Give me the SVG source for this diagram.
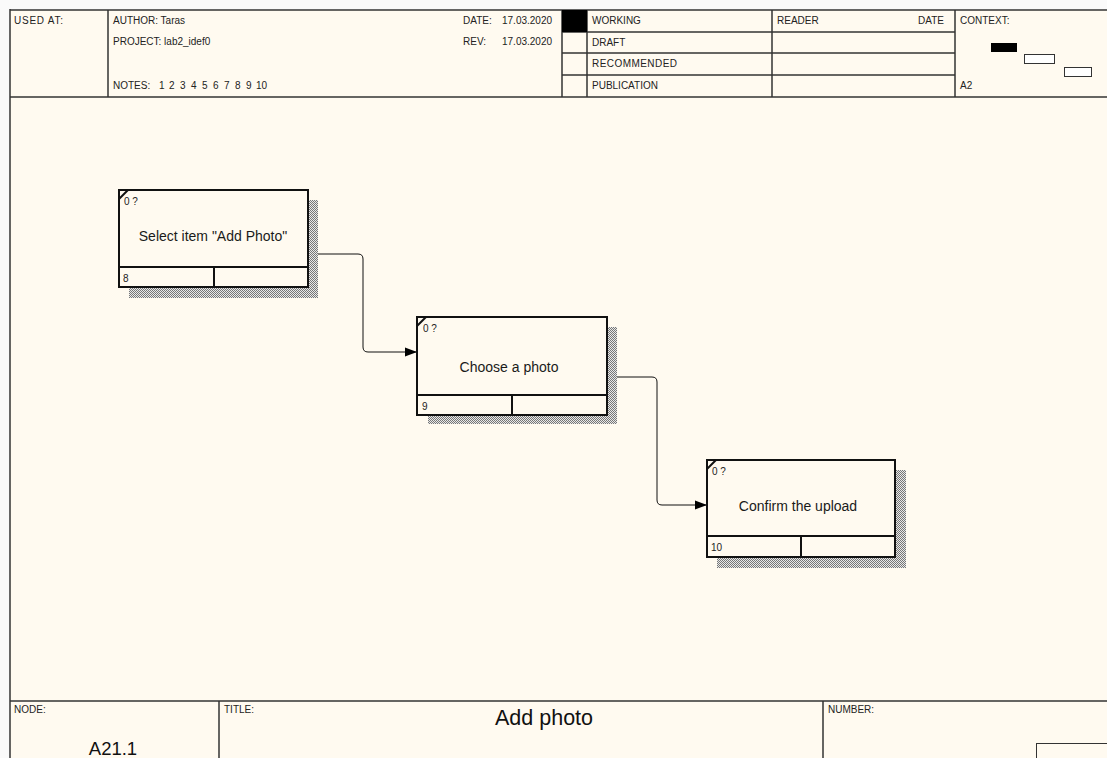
<svg xmlns="http://www.w3.org/2000/svg" width="1107" height="758" viewBox="0 0 1107 758">
<style>
.t{font-family:"Liberation Sans",Arial,sans-serif;font-size:10px;fill:#222}
.bt{font-family:"Liberation Sans",Arial,sans-serif;font-size:14px;fill:#1a1a1a;text-anchor:middle}
.fr{stroke:#333;stroke-width:1.5;fill:none}
.box{fill:#fffaf0;stroke:#111;stroke-width:2}
.div{stroke:#111;stroke-width:2}
.sh{fill:url(#hatch)}
.conn{stroke:#111;stroke-width:1;fill:none;marker-end:url(#ah)}
</style>
<defs>
<pattern id="hatch" width="2" height="2" patternUnits="userSpaceOnUse">
<rect width="2" height="2" fill="#e8e8e8"/>
<rect width="1" height="1" fill="#777"/>
<rect x="1" y="1" width="1" height="1" fill="#777"/>
</pattern>
<marker id="ah" markerWidth="13" markerHeight="10" refX="12" refY="5" orient="auto" markerUnits="userSpaceOnUse">
<path d="M0,0.5 L12,5 L0,9.5 Z" fill="#000"/>
</marker>
</defs>
<rect width="1107" height="758" fill="#fafafa"/>
<rect x="10" y="10" width="1097" height="748" fill="#fffaf0"/>
<g id="frame">
<line x1="10" y1="10" x2="1107" y2="10" class="fr" stroke-width="2"/>
<line x1="10" y1="9" x2="10" y2="758" class="fr" stroke-width="2.5" stroke="#555"/>
<line x1="10" y1="97" x2="1107" y2="97" class="fr" stroke-width="2.5" stroke="#555"/>
<line x1="108" y1="10" x2="108" y2="97" class="fr"/>
<line x1="562" y1="10" x2="562" y2="97" class="fr"/>
<line x1="587" y1="10" x2="587" y2="97" class="fr" stroke="#555"/>
<line x1="772" y1="10" x2="772" y2="97" class="fr"/>
<line x1="955" y1="10" x2="955" y2="97" class="fr" stroke="#555"/>
<line x1="562" y1="32" x2="955" y2="32" class="fr"/>
<line x1="562" y1="53" x2="955" y2="53" class="fr"/>
<line x1="562" y1="75" x2="955" y2="75" class="fr"/>
<rect x="562" y="10" width="25" height="22" fill="#000"/>
<text x="14" y="24" class="t" textLength="49">USED AT:</text>
<text x="113" y="24" class="t">AUTHOR:  Taras</text>
<text x="113" y="45" class="t">PROJECT:  lab2_idef0</text>
<text x="113" y="89" class="t">NOTES:</text>
<text y="89" class="t"><tspan x="159">1</tspan><tspan x="169">2</tspan><tspan x="180">3</tspan><tspan x="191">4</tspan><tspan x="202">5</tspan><tspan x="213">6</tspan><tspan x="224">7</tspan><tspan x="235">8</tspan><tspan x="246">9</tspan><tspan x="256">10</tspan></text>
<text x="463" y="24" class="t">DATE:</text>
<text x="502" y="24" class="t">17.03.2020</text>
<text x="463" y="45" class="t">REV:</text>
<text x="502" y="45" class="t">17.03.2020</text>
<text x="592" y="24" class="t">WORKING</text>
<text x="592" y="46" class="t">DRAFT</text>
<text x="592" y="67" class="t" textLength="85">RECOMMENDED</text>
<text x="592" y="89" class="t">PUBLICATION</text>
<text x="777" y="24" class="t">READER</text>
<text x="944" y="24" class="t" text-anchor="end">DATE</text>
<text x="960" y="24" class="t">CONTEXT:</text>
<text x="960" y="89" class="t">A2</text>
<rect x="991" y="43" width="26" height="9" fill="#000"/>
<rect x="1024.5" y="54.5" width="30" height="9" fill="#fff" stroke="#333"/>
<rect x="1064.5" y="67.5" width="27" height="9" fill="#fff" stroke="#333"/>
<line x1="10" y1="701" x2="1107" y2="701" class="fr" stroke-width="2.5" stroke="#555"/>
<line x1="219" y1="701" x2="219" y2="758" class="fr" stroke="#555"/>
<line x1="823" y1="701" x2="823" y2="758" class="fr"/>
<rect x="1036.5" y="743.5" width="75" height="20" fill="none" stroke="#333"/>
<text x="14" y="713" class="t">NODE:</text>
<text x="224" y="713" class="t">TITLE:</text>
<text x="828" y="713" class="t">NUMBER:</text>
<text x="113" y="755" font-family="Liberation Sans,Arial,sans-serif" font-size="18.5" fill="#111" text-anchor="middle">A21.1</text>
<text x="544" y="725" font-family="Liberation Sans,Arial,sans-serif" font-size="21.5" fill="#111" text-anchor="middle">Add photo</text>
</g>
<g id="connectors">
<path class="conn" d="M308,254 H358 Q363,254 363,259 V347 Q363,352 368,352 H417"/>
<path class="conn" d="M607,377 H652 Q657,377 657,382 V500 Q657,505 662,505 H707"/>
</g>
<g id="node1">
<rect x="308" y="200" width="10" height="98" class="sh"/>
<rect x="129" y="287" width="189" height="11" class="sh"/>
<rect x="119" y="190" width="189" height="97" class="box"/>
<line x1="119" y1="267" x2="308" y2="267" class="div"/>
<line x1="214" y1="267" x2="214" y2="287" class="div"/>
<line x1="119" y1="199" x2="128" y2="190" class="div"/>
<text x="124" y="205" class="t">0 ?</text>
<text x="213" y="241" class="bt">Select item "Add Photo"</text>
<text x="123" y="282" class="t">8</text>
</g>
<g id="node2">
<rect x="607" y="327" width="10" height="97" class="sh"/>
<rect x="428" y="415" width="189" height="9" class="sh"/>
<rect x="417" y="317" width="190" height="98" class="box"/>
<line x1="417" y1="395" x2="607" y2="395" class="div"/>
<line x1="512" y1="395" x2="512" y2="415" class="div"/>
<line x1="417" y1="326" x2="426" y2="317" class="div"/>
<text x="423" y="332" class="t">0 ?</text>
<text x="509" y="372" class="bt">Choose a photo</text>
<text x="422" y="410" class="t">9</text>
</g>
<g id="node3">
<rect x="895" y="470" width="11" height="98" class="sh"/>
<rect x="717" y="557" width="189" height="11" class="sh"/>
<rect x="707" y="460" width="188" height="97" class="box"/>
<line x1="707" y1="536" x2="895" y2="536" class="div"/>
<line x1="801" y1="536" x2="801" y2="557" class="div"/>
<line x1="707" y1="469" x2="716" y2="460" class="div"/>
<text x="712" y="475" class="t">0 ?</text>
<text x="798" y="511" class="bt">Confirm the upload</text>
<text x="711" y="551" class="t">10</text>
</g>
</svg>
